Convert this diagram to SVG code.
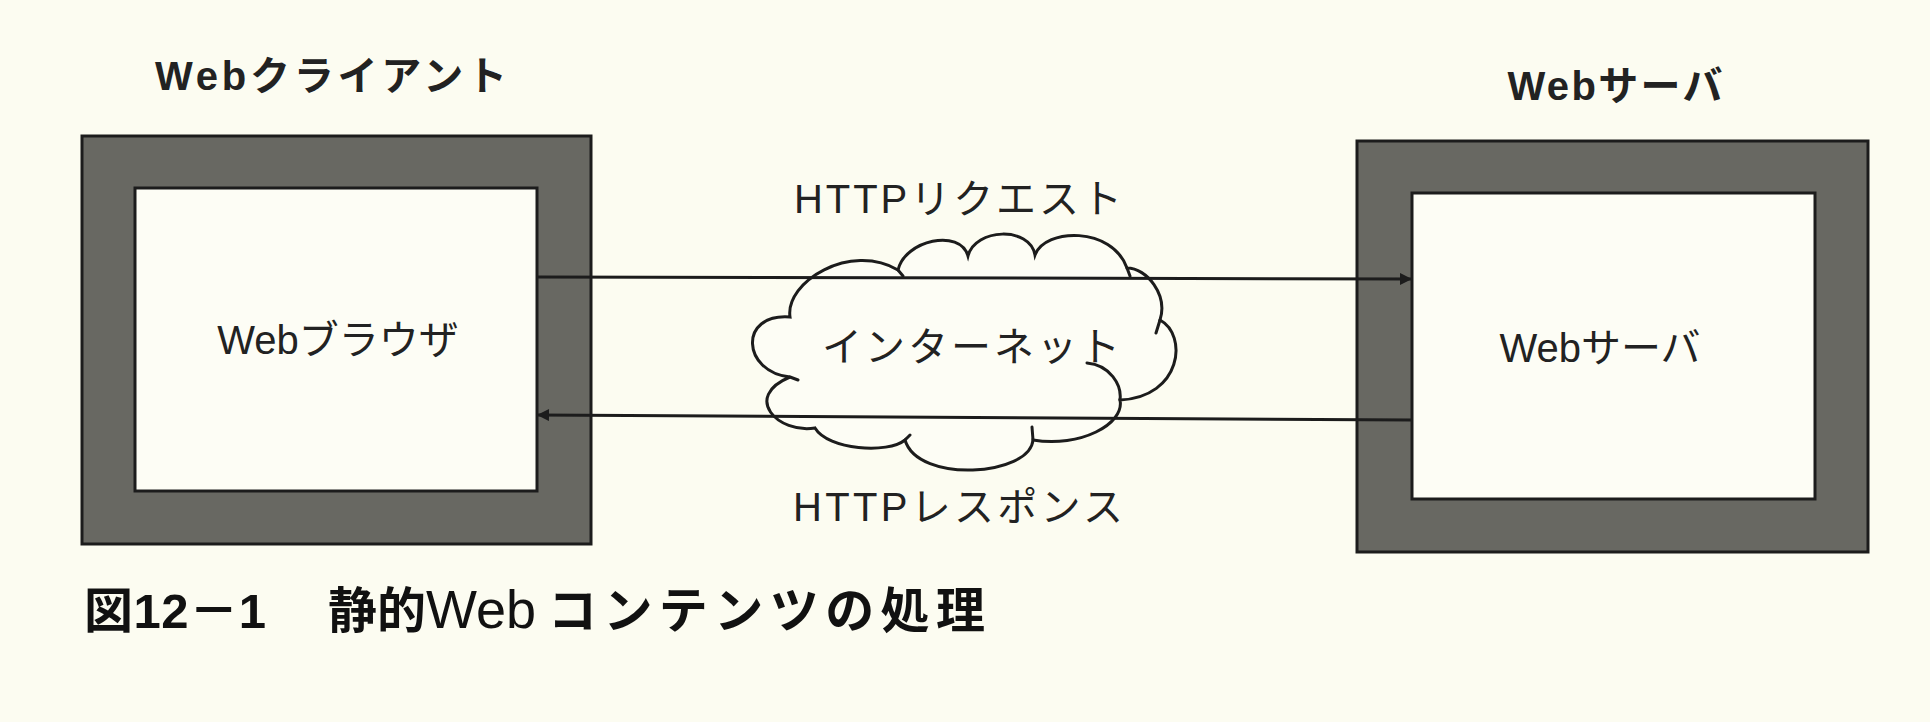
<svg xmlns="http://www.w3.org/2000/svg" width="1930" height="722" viewBox="0 0 1930 722">
<style>
.frame{fill:#686862;stroke:#1c1c1c;stroke-width:3}
.inner{fill:#fdfdf5;stroke:#1c1c1c;stroke-width:3}
.ttl{font-family:"Liberation Sans","Noto Sans CJK JP",sans-serif;font-weight:700;font-size:40px;fill:#222}
.lbl{font-family:"Liberation Sans","Noto Sans CJK JP",sans-serif;font-size:40px;fill:#222}
.cap{font-family:"Liberation Sans","Noto Sans CJK JP",sans-serif;font-weight:700;font-size:49px;fill:#111}
.cloud{fill:#fdfdf5;stroke:#1c1c1c;stroke-width:3;stroke-linecap:round}
.conn{stroke:#1c1c1c;stroke-width:3;fill:none}
</style>
<defs>
<marker id="ah" viewBox="0 0 10 10" refX="10" refY="5" markerWidth="5" markerHeight="4" orient="auto">
<path d="M0,0 L10,5 L0,10 z" fill="#1c1c1c"/>
</marker>
</defs>
<rect width="1930" height="722" fill="#fcfcf1"/>
<g id="client">
<text class="ttl" x="331" y="90" text-anchor="middle" textLength="352" lengthAdjust="spacing">Webクライアント</text>
<rect class="frame" x="82" y="136" width="509" height="408"/>
<rect class="inner" x="135" y="188" width="402" height="303"/>
<text class="lbl" x="338" y="354" text-anchor="middle" font-size="43">Webブラウザ</text>
</g>
<g id="server">
<text class="ttl" x="1615" y="100" text-anchor="middle" textLength="215" lengthAdjust="spacing">Webサーバ</text>
<rect class="frame" x="1357" y="141" width="511" height="411"/>
<rect class="inner" x="1412" y="193" width="403" height="306"/>
<text class="lbl" x="1600" y="362" text-anchor="middle">Webサーバ</text>
</g>
<g id="internet">
<path class="cloud" d="M790,317 C785,282 850,242 898,270 C905,240 960,228 968,256 C975,228 1030,226 1035,255 C1045,228 1112,226 1127,268 C1147,268 1168,295 1160,320 C1188,335 1182,397 1120,400 C1125,424 1080,448 1033,440 C1030,476 918,484 905,440 C888,454 828,450 815,428 C778,434 742,397 790,377 C742,372 738,313 790,317 Z"/>
<path class="cloud" fill="none" d="M1087,363 C1110,365 1122,385 1120,400 M790,377 L798,380 M1160,320 L1156,333 M1033,440 L1032,427 M898,270 L903,276 M1127,268 L1130,276 M905,440 L910,435"/>
<text class="lbl" x="971" y="361" text-anchor="middle" font-size="43" textLength="298" lengthAdjust="spacing">インターネット</text>
</g>
<g id="connectors">
<line class="conn" x1="537" y1="277" x2="1412" y2="279" marker-end="url(#ah)"/>
<line class="conn" x1="1412" y1="420" x2="537" y2="415" marker-end="url(#ah)"/>
<text class="lbl" x="958" y="213" text-anchor="middle" textLength="328" lengthAdjust="spacing">HTTPリクエスト</text>
<text class="lbl" x="958" y="521" text-anchor="middle" textLength="330" lengthAdjust="spacing">HTTPレスポンス</text>
</g>
<g id="caption">
<text class="cap" x="84" y="628" textLength="182" lengthAdjust="spacing">図12－1</text>
<text class="cap" y="628"><tspan x="328">静的</tspan><tspan x="426" font-size="54" font-weight="400">Web</tspan><tspan x="548" textLength="437" lengthAdjust="spacing">コンテンツの処理</tspan></text>
</g>
</svg>
